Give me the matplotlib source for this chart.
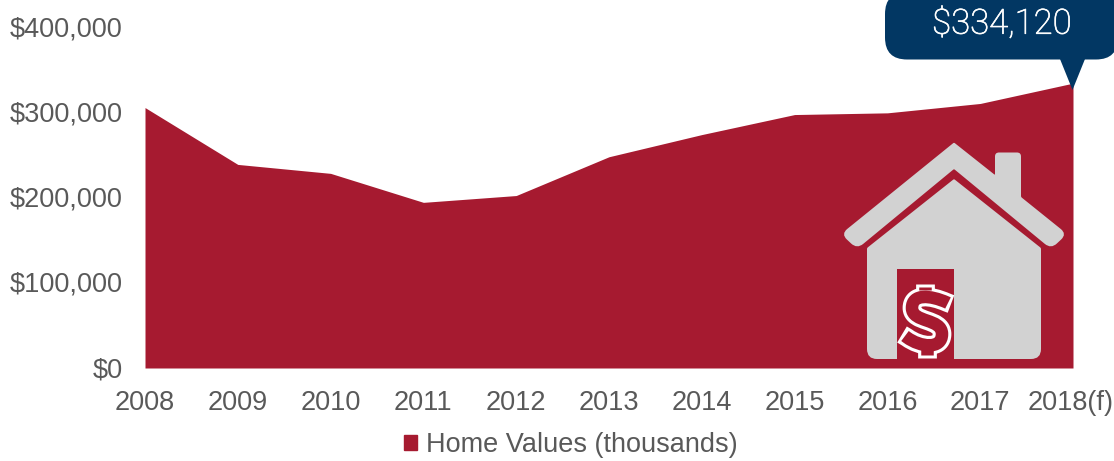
import numpy as np
import matplotlib
matplotlib.use("Agg")
import matplotlib.pyplot as plt
import matplotlib.patheffects as pe
from matplotlib.patches import PathPatch, Polygon, Patch
from matplotlib.path import Path
from matplotlib.transforms import ScaledTranslation

years = ["2008", "2009", "2010", "2011", "2012", "2013", "2014", "2015", "2016", "2017", "2018(f)"]
home_values = [305500, 238800, 228300, 194300, 202300, 247800, 273800, 297300, 299300, 310300, 334120]
y_ticks = [0, 100000, 200000, 300000, 400000]
y_labels = ["$0", "$100,000", "$200,000", "$300,000", "$400,000"]

W, H = 1114, 461
RED = "#a61a30"
NAVY = "#023763"
GREY = "#d2d2d2"
TEXT = "#595959"

plt.rcParams["font.family"] = ["Liberation Sans", "DejaVu Sans"]


def rounded(points, radii):
    """closed path through points, each corner rounded by its radius (pixels)"""
    pts = np.array(points, dtype=float)
    n = len(pts)
    verts, codes = [], []
    for i in range(n):
        p, prev, nxt = pts[i], pts[i - 1], pts[(i + 1) % n]
        r = radii[i]
        a = p + (prev - p) / np.linalg.norm(prev - p) * r
        b = p + (nxt - p) / np.linalg.norm(nxt - p) * r
        verts += [a, p, b]
        codes += [Path.MOVETO if i == 0 else Path.LINETO, Path.CURVE3, Path.CURVE3]
    verts.append(verts[0])
    codes.append(Path.CLOSEPOLY)
    return Path(verts, codes)


def dollar_paths(extra):
    """S curve and the two stubs of the dollar icon, ends lengthened by extra pixels"""
    s_verts = [(948 + extra, 303 + extra / 3), (947, 302.5), (930, 295), (912, 293.5), (912, 308),
               (912, 323), (942, 318), (942, 334), (942, 350), (920, 347), (907, 337.5),
               (905 - extra, 336 - extra / 2)]
    s_codes = [Path.MOVETO, Path.LINETO] + [Path.CURVE4] * 9 + [Path.LINETO]
    top = Path([(925, 290), (925, 287 - extra)], [Path.MOVETO, Path.LINETO])
    bottom = Path([(927, 347), (927, 354.5 + extra)], [Path.MOVETO, Path.LINETO])
    return [Path(s_verts, s_codes), top, bottom]


fig = plt.figure(figsize=(W / 100, H / 100), dpi=100)
ax = fig.add_axes([145 / W, 1 - 368 / H, (1073 - 145) / W, (368 - 27) / H])
x = np.arange(len(years))
ax.fill_between(x, home_values, 0, color=RED, lw=0, label="Home Values (thousands)")
ax.set_xlim(0, len(years) - 1)
ax.set_ylim(0, 400000)
ax.set_xticks(x, years)
ax.set_yticks(y_ticks, y_labels)
ax.tick_params(length=0, labelsize=19.5, labelcolor=TEXT)
ax.tick_params(axis="x", pad=16)
ax.tick_params(axis="y", pad=16.3)
for lab in ax.get_yticklabels():
    lab.set_transform(lab.get_transform() + ScaledTranslation(0, 1 / 100, fig.dpi_scale_trans))
last = ax.get_xticklabels()[-1]
last.set_transform(last.get_transform() + ScaledTranslation(-2.5 / 100, 0, fig.dpi_scale_trans))
for s in ax.spines.values():
    s.set_visible(False)
ax.legend(handles=[Patch(color=RED, label="Home Values (thousands)")], loc="center",
          bbox_to_anchor=(570.5 / W, 1 - 445 / H), bbox_transform=fig.transFigure,
          frameon=False, fontsize=19.5, labelcolor=TEXT, handlelength=0.5, handleheight=0.5,
          handletextpad=0.3, borderpad=0, borderaxespad=0)

# overlay in pixel coordinates for the house icon and the callout
ov = fig.add_axes([0, 0, 1, 1])
ov.set_xlim(0, W)
ov.set_ylim(H, 0)
ov.axis("off")

roof = [(954, 142.5), (995, 175), (995, 152.5), (1021, 152.5), (1021, 197), (1067, 234),
        (1051, 249), (954, 169), (857, 249), (841, 234)]
ov.add_patch(PathPatch(rounded(roof, [1, 1, 4, 4, 1, 8, 8, 1, 8, 8]), fc=GREY, lw=0))
body = [(954, 179), (1041, 248), (1041, 359), (867, 359), (867, 248)]
ov.add_patch(PathPatch(rounded(body, [1, 1, 10, 10, 1]), fc=GREY, lw=0))
ov.add_patch(Polygon([(897, 269), (954, 269), (954, 359), (897, 359)], fc=RED, lw=0))
for p in dollar_paths(3):
    ov.add_patch(PathPatch(p, fc="none", ec="white", lw=13.5, capstyle="butt", joinstyle="round"))
for p in dollar_paths(0):
    ov.add_patch(PathPatch(p, fc="none", ec=RED, lw=9, capstyle="butt", joinstyle="round"))

box = [(885, -8), (1118, -8), (1118, 59.5), (885, 59.5)]
ov.add_patch(PathPatch(rounded(box, [22, 22, 22, 22]), fc=NAVY, lw=0))
ov.add_patch(Polygon([(1060, 59), (1085, 59), (1072.5, 90)], fc=NAVY, lw=0))
ov.text(1002, 24, "$334,120", fontsize=25, fontweight="light", color="white", ha="center", va="center",
        family="Roboto", path_effects=[pe.withStroke(linewidth=0.5, foreground="white")])

fig.savefig("out.png", dpi=100)
